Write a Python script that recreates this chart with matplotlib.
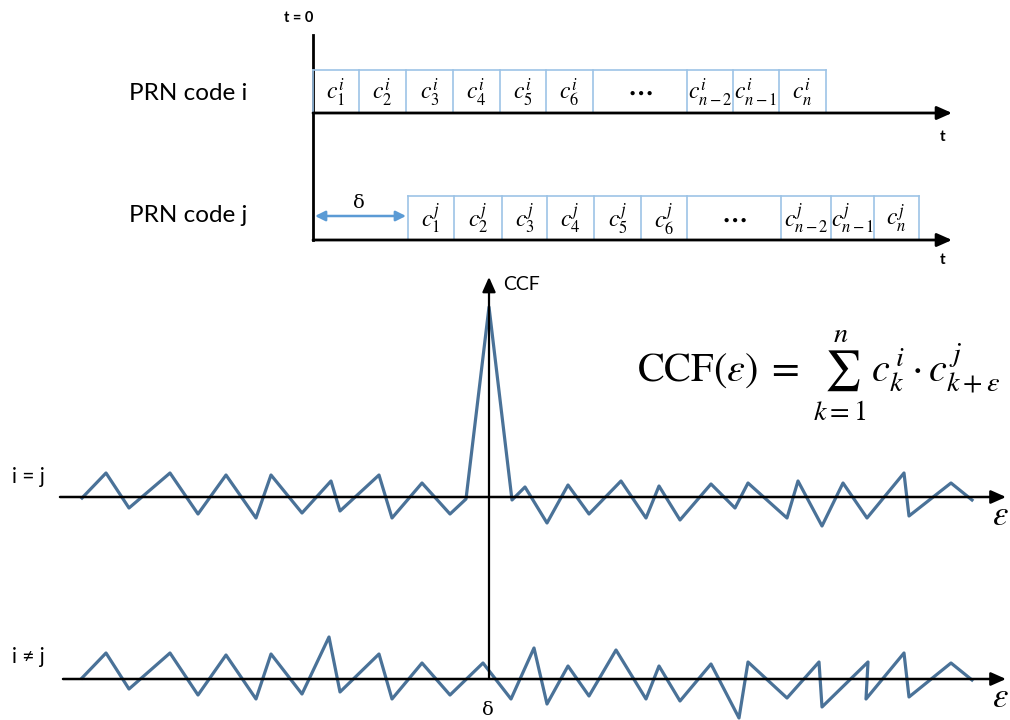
import matplotlib.pyplot as plt

plt.rcParams['mathtext.fontset'] = 'stix'
plt.rcParams['font.family'] = ['Lato', 'DejaVu Sans']

# PRN code cells (box edges along the time axis) and their labels
code_i_edges = [313, 359, 406, 453, 500, 546, 593, 687, 733, 779, 826]
code_i_labels = [r'$c_1^i$', r'$c_2^i$', r'$c_3^i$', r'$c_4^i$', r'$c_5^i$', r'$c_6^i$',
                 r'$\cdots$', r'$c_{n-2}^i$', r'$c_{n-1}^i$', r'$c_n^i$']
code_j_edges = [408, 454, 502, 547, 594, 641, 687, 781, 831, 874, 919]
code_j_labels = [r'$c_1^j$', r'$c_2^j$', r'$c_3^j$', r'$c_4^j$', r'$c_5^j$', r'$c_6^j$',
                 r'$\cdots$', r'$c_{n-2}^j$', r'$c_{n-1}^j$', r'$c_n^j$']

# cross-correlation, i = j (auto-correlation): epsilon position and value
eps_same = [82, 106, 129, 170, 198, 226, 256, 271, 302, 331, 340, 379, 392, 422, 450, 466,
            489, 512, 525, 547, 568, 589, 621, 646, 659, 680, 711, 735, 748, 787, 798, 822,
            843, 867, 904, 909, 951, 972]
ccf_same = [-1, 24, -11, 24, -17, 22, -21, 22, -16, 16, -14, 22, -21, 14, -17, -2,
            190, -3, 10, -26, 12, -17, 16, -21, 11, -23, 13, -11, 14, -21, 16, -29,
            14, -21, 24, -19, 14, -3]

# cross-correlation, i != j
eps_diff = [82, 106, 129, 170, 198, 226, 256, 271, 302, 329, 340, 379, 392, 422, 450, 483,
            511, 534, 547, 568, 589, 616, 646, 659, 680, 711, 739, 748, 787, 819, 822, 868,
            866, 904, 909, 951, 972]
ccf_diff = [1, 26, -10, 26, -16, 24, -20, 25, -15, 42, -13, 25, -20, 16, -16, 16,
            -20, 31, -25, 13, -17, 29, -20, 13, -22, 15, -39, 17, -19, 17, -28, 17,
            -20, 26, -18, 16, -1]

fig = plt.figure(figsize=(10.1, 7.2), dpi=100)
ax = fig.add_axes([0, 0, 1, 1])
ax.set_xlim(0, 1010)
ax.set_ylim(720, 0)
ax.axis('off')

box_color = '#9dc3e6'
line_color = '#4a7298'


def arrow(x0, y0, x1, y1, lw=2.0, color='black', style='-|>,head_length=0.9,head_width=0.4'):
    ax.annotate('', xy=(x1, y1), xytext=(x0, y0),
                arrowprops=dict(arrowstyle=style, lw=lw, color=color,
                                shrinkA=0, shrinkB=0))


def code_row(edges, labels, top, bottom):
    ax.plot([edges[0], edges[-1]], [top, top], color=box_color, lw=1.2)
    for e in edges:
        ax.plot([e, e], [top, bottom], color=box_color, lw=1.2)
    for k, lab in enumerate(labels):
        xc = (edges[k] + edges[k + 1]) / 2
        if lab == r'$\cdots$':
            ax.text(xc, (top + bottom) / 2, r'$\mathbf{\cdots}$', fontsize=18,
                    ha='center', va='center')
        else:
            ax.text(xc, (top + bottom) / 2 + 1, lab, fontsize=17, ha='center', va='center')


# --- top: PRN codes on time axes ---
ax.plot([313, 313], [35, 240], color='black', lw=2.0)
ax.text(299, 18, 't = 0', fontsize=10.5, fontweight='bold', ha='center', va='center')

code_row(code_i_edges, code_i_labels, 70, 113)
arrow(313, 113, 952, 113)
ax.text(943, 137, 't', fontsize=11, fontweight='bold', ha='center', va='center')
ax.text(188, 93, 'PRN code i', fontsize=17.5, ha='center', va='center')

code_row(code_j_edges, code_j_labels, 196, 240)
arrow(313, 240, 952, 240)
ax.text(943, 260, 't', fontsize=11, fontweight='bold', ha='center', va='center')
ax.text(188, 215, 'PRN code j', fontsize=17.5, ha='center', va='center')

arrow(315, 216, 406, 216, lw=1.8, color='#5b9bd5', style='<|-|>,head_length=0.6,head_width=0.3')
ax.text(359, 203, 'δ', fontsize=14, ha='center', va='center', family='DejaVu Serif')

# --- bottom: cross-correlation functions ---
base_same, base_diff = 497, 679
arrow(489, base_diff, 489, 277, lw=1.6)
ax.text(503, 285, 'CCF', fontsize=14, ha='left', va='center')

arrow(60, base_same, 1006, base_same, lw=1.8)
arrow(63, base_diff, 1006, base_diff, lw=1.8)
ax.plot(eps_same, [base_same - v for v in ccf_same], color=line_color, lw=2.3)
ax.plot(eps_diff, [base_diff - v for v in ccf_diff], color=line_color, lw=2.3)

ax.text(28, 477, 'i = j', fontsize=15, ha='center', va='center')
ax.text(28, 657, 'i ≠ j', fontsize=15, ha='center', va='center')
ax.text(1000, 515, r'$\varepsilon$', fontsize=25, ha='center', va='center')
ax.text(1000, 697, r'$\varepsilon$', fontsize=25, ha='center', va='center')
ax.text(488, 710, 'δ', fontsize=14, ha='center', va='center', family='DejaVu Serif')

ax.text(819, 376,
        r'$\mathrm{CCF}(\varepsilon)\;=\;\sum_{k=1}^{n}\,c_k^{\,i}\cdot c_{k+\varepsilon}^{\,j}$',
        fontsize=29, ha='center', va='center')

fig.savefig('out.png', dpi=100)
